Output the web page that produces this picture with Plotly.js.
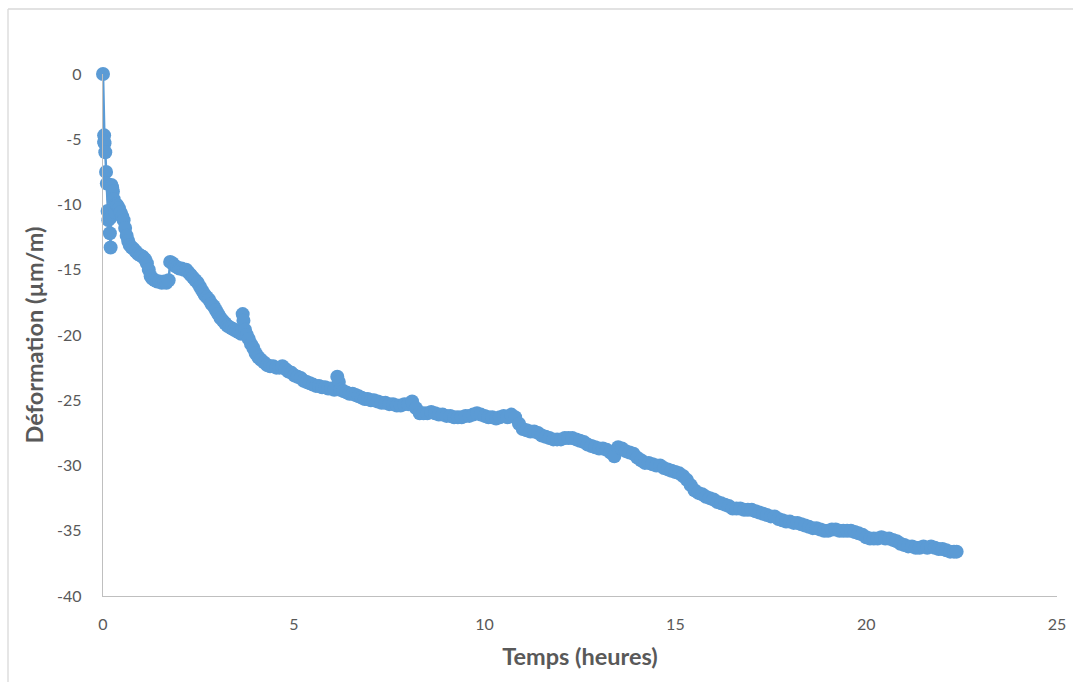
<!DOCTYPE html>
<html>
<head>
<meta charset="utf-8">
<script src="https://cdn.plot.ly/plotly-3.0.1.min.js"></script>
<style>html,body{margin:0;padding:0;background:#fff;}#chart{width:1073px;height:682px;}</style>
</head>
<body>
<div id="chart"></div>
<script>
// Temps (heures)
const timeHours = [
 0, 0.03, 0.03, 0.04, 0.06, 0.08, 0.1, 0.12, 0.14, 0.16, 0.18, 0.2, 0.2, 0.22, 0.24, 0.26, 0.28, 0.3, 0.32, 0.35,
 0.38, 0.42, 0.46, 0.5, 0.54, 0.58, 0.62, 0.66, 0.7, 0.75, 0.8, 0.86, 0.92, 0.98, 1.04, 1.1, 1.15, 1.2, 1.25, 1.3,
 1.36, 1.42, 1.48, 1.54, 1.6, 1.66, 1.72,
 1.76, 1.82, 1.88, 1.94, 2.0, 2.06, 2.12, 2.18, 2.24, 2.3, 2.36, 2.42, 2.48, 2.54, 2.6, 2.66, 2.72, 2.78, 2.84, 2.9,
 2.96, 3.02, 3.08, 3.14, 3.2, 3.26, 3.32, 3.38, 3.44, 3.5, 3.56, 3.62, 3.66, 3.68, 3.72, 3.77, 3.82, 3.88, 3.94, 4.0,
 4.07, 4.14, 4.22, 4.3, 4.38, 4.46, 4.54, 4.62, 4.7, 4.78, 4.86, 4.94, 5.02, 5.1, 5.18, 5.26, 5.34, 5.42, 5.5, 5.58,
 5.66, 5.74, 5.82, 5.9, 5.98, 6.06, 6.14, 6.18, 6.22, 6.3, 6.38, 6.46, 6.54, 6.62, 6.7, 6.78, 6.86, 6.94, 7.02, 7.1,
 7.2, 7.3, 7.4, 7.5, 7.6, 7.7, 7.8, 7.9, 8.0, 8.1, 8.2, 8.3, 8.4, 8.5, 8.6, 8.7, 8.8, 8.9, 9.0, 9.1,
 9.2, 9.3, 9.4, 9.5, 9.6, 9.7, 9.8, 9.9, 10.0, 10.1, 10.2, 10.3, 10.4, 10.5, 10.6, 10.7, 10.8, 10.9, 11.0, 11.1,
 11.2, 11.3, 11.4, 11.5, 11.6, 11.7, 11.8, 11.9, 12.0, 12.1, 12.2, 12.3, 12.4, 12.5, 12.6, 12.7, 12.8, 12.9, 13.0, 13.1,
 13.2, 13.3, 13.4, 13.5, 13.6, 13.7, 13.8, 13.9, 14.0, 14.1, 14.2, 14.3, 14.4, 14.5, 14.6, 14.7, 14.8, 14.9, 15.0, 15.1,
 15.2, 15.3, 15.4, 15.5, 15.6, 15.7, 15.8, 15.9, 16.0, 16.1, 16.2, 16.3, 16.4, 16.5, 16.6, 16.7, 16.8, 16.9, 17.0, 17.1,
 17.2, 17.3, 17.4, 17.5, 17.6, 17.7, 17.8, 17.9, 18.0, 18.1, 18.2, 18.3, 18.4, 18.5, 18.6, 18.7, 18.8, 18.9, 19.0, 19.1,
 19.2, 19.3, 19.4, 19.5, 19.6, 19.7, 19.8, 19.9, 20.0, 20.1, 20.2, 20.3, 20.4, 20.5, 20.6, 20.7, 20.8, 20.9, 21.0, 21.1,
 21.2, 21.3, 21.4, 21.5, 21.6, 21.7, 21.8, 21.9, 22.0, 22.1, 22.2, 22.3, 22.37
];
// Déformation (µm/m)
const strain = [
 0, -4.7, -5.2, -5.3, -6.0, -7.5, -8.4, -10.5, -11.2, -10.7, -12.2, -13.3, -11.0, -8.5, -8.7, -9.0, -9.6, -10.2, -10.6, -10.0,
 -10.1, -10.3, -10.6, -10.9, -11.2, -11.8, -12.4, -12.8, -13.1, -13.3, -13.4, -13.6, -13.8, -13.9, -14.0, -14.2, -14.5, -15.0, -15.5, -15.7,
 -15.8, -15.9, -15.9, -16.0, -15.9, -16.0, -15.8,
 -14.4, -14.5, -14.7, -14.8, -14.9, -14.9, -15.0, -15.0, -15.2, -15.4, -15.6, -15.8, -16.0, -16.3, -16.6, -16.9, -17.1, -17.3, -17.6, -17.8,
 -18.1, -18.4, -18.7, -18.9, -19.1, -19.3, -19.4, -19.5, -19.6, -19.7, -19.8, -19.9, -18.4, -18.9, -19.6, -20.0, -20.3, -20.7, -21.0, -21.4,
 -21.7, -21.9, -22.1, -22.3, -22.4, -22.4, -22.5, -22.5, -22.4, -22.6, -22.8, -22.9, -23.1, -23.2, -23.3, -23.5, -23.6, -23.7, -23.8, -23.9,
 -23.9, -24.0, -24.0, -24.1, -24.1, -24.2, -23.2, -23.6, -24.2, -24.3, -24.4, -24.5, -24.5, -24.6, -24.7, -24.8, -24.9, -24.9, -25.0, -25.0,
 -25.1, -25.2, -25.2, -25.3, -25.3, -25.4, -25.4, -25.3, -25.3, -25.1, -25.6, -26.0, -26.0, -26.0, -25.9, -26.0, -26.1, -26.1, -26.2, -26.2,
 -26.3, -26.3, -26.3, -26.2, -26.2, -26.1, -26.0, -26.1, -26.2, -26.3, -26.3, -26.4, -26.3, -26.2, -26.3, -26.1, -26.3, -26.8, -27.2, -27.3,
 -27.4, -27.4, -27.5, -27.7, -27.8, -27.9, -28.0, -28.0, -28.0, -27.9, -27.9, -27.9, -28.0, -28.1, -28.2, -28.4, -28.5, -28.6, -28.7, -28.7,
 -28.8, -29.0, -29.3, -28.6, -28.7, -28.9, -29.0, -29.1, -29.4, -29.6, -29.8, -29.8, -29.9, -30.0, -30.0, -30.2, -30.3, -30.4, -30.5, -30.6,
 -30.8, -31.1, -31.5, -31.9, -32.1, -32.2, -32.4, -32.5, -32.6, -32.8, -32.9, -33.0, -33.1, -33.3, -33.3, -33.3, -33.4, -33.4, -33.4, -33.5,
 -33.6, -33.7, -33.8, -33.9, -33.9, -34.1, -34.2, -34.3, -34.3, -34.4, -34.4, -34.5, -34.6, -34.7, -34.8, -34.8, -34.9, -35.0, -35.0, -34.9,
 -34.9, -35.0, -35.0, -35.0, -35.0, -35.1, -35.2, -35.3, -35.5, -35.6, -35.6, -35.6, -35.5, -35.6, -35.6, -35.7, -35.8, -36.0, -36.1, -36.2,
 -36.2, -36.3, -36.3, -36.2, -36.3, -36.2, -36.3, -36.4, -36.4, -36.5, -36.6, -36.6, -36.6
];
const xTicks = [0, 5, 10, 15, 20, 25];
const yTicks = [0, -5, -10, -15, -20, -25, -30, -35, -40];
const xTitle = 'Temps (heures)';
const yTitle = 'Déformation (µm/m)';

const blue = '#5B9BD5';
const grey = '#595959';
const fontFam = 'Lato, "Open Sans", sans-serif';

const trace = {
  x: timeHours, y: strain, type: 'scatter', mode: 'lines+markers',
  line: {color: blue, width: 2.5},
  marker: {color: blue, size: 14},
  cliponaxis: false,
  hoverinfo: 'x+y'
};

const layout = {
  width: 1073, height: 682,
  margin: {l: 103, r: 16, t: 74, b: 86, pad: 0},
  paper_bgcolor: '#fff', plot_bgcolor: '#fff',
  showlegend: false,
  font: {family: fontFam, color: grey, size: 16},
  xaxis: {
    range: [0, 25], tickvals: xTicks, ticktext: xTicks.map(String),
    showgrid: false, zeroline: false, showline: true, linecolor: '#BFBFBF', linewidth: 1.3,
    ticks: '', ticklabelstandoff: 13,
    tickfont: {family: fontFam, size: 16, color: grey},
    title: {text: xTitle, font: {family: fontFam, size: 23.5, color: grey, weight: 'bold'}, standoff: 17}
  },
  yaxis: {
    range: [-40, 0], tickvals: yTicks, ticktext: yTicks.map(String),
    showgrid: false, zeroline: false, showline: true, linecolor: '#BFBFBF', linewidth: 1.3,
    ticks: '', ticklabelstandoff: 17,
    tickfont: {family: fontFam, size: 16, color: grey},
    title: {text: yTitle, font: {family: fontFam, size: 23.5, color: grey, weight: 'bold'}, standoff: 6}
  },
  shapes: [
    {type: 'line', xref: 'paper', yref: 'paper', x0: -95/954, x1: 1.1, y0: 587/522, y1: 587/522, line: {color: '#D9D9D9', width: 1.3}},
    {type: 'line', xref: 'paper', yref: 'paper', x0: -95/954, x1: -95/954, y0: -0.2, y1: 587/522, line: {color: '#D9D9D9', width: 1.3}}
  ]
};

Plotly.newPlot('chart', [trace], layout, {displayModeBar: false, staticPlot: true});
</script>
</body>
</html>
